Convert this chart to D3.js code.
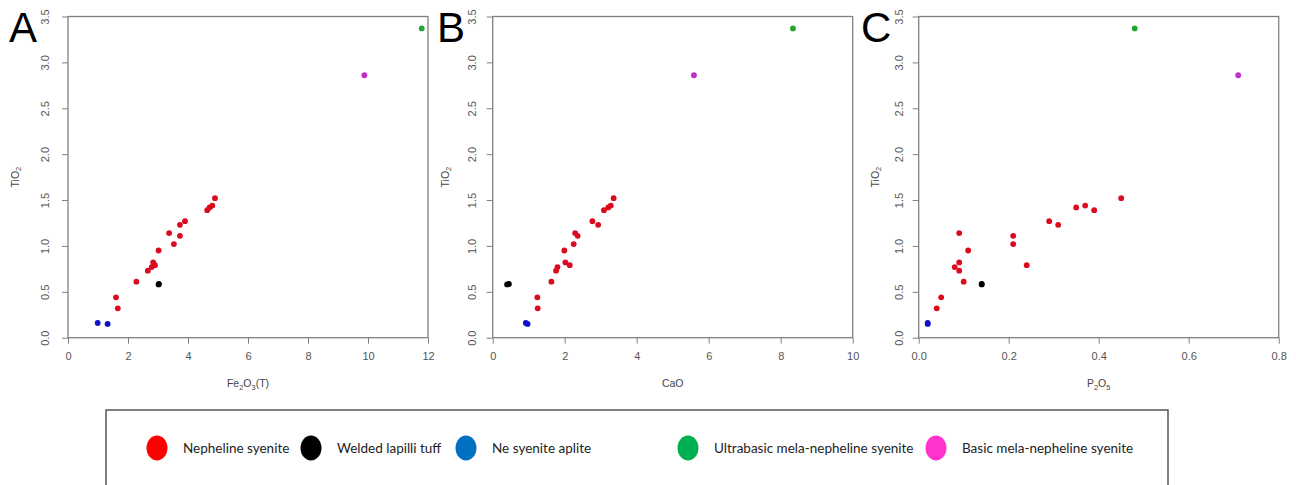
<!DOCTYPE html>
<html>
<head>
<meta charset="utf-8">
<script src="https://cdn.jsdelivr.net/npm/d3@7"></script>
<style>
  body { margin: 0; background: #fff; }
  svg { display: block; }
</style>
</head>
<body>
<svg id="chart" width="1296" height="485"></svg>
<script>
// Rock groups, in legend order
const groups = [
  "Nepheline syenite",
  "Welded lapilli tuff",
  "Ne syenite aplite",
  "Ultrabasic mela-nepheline syenite",
  "Basic mela-nepheline syenite"
];
const pointColors = ["#dc0a1e", "#000000", "#1010c8", "#22a832", "#c030c8"];
const legendColors = ["#ff0000", "#000000", "#0070c0", "#00b050", "#ff33cc"];

// One entry per sample (wt%)
const sampleGroup = [0,0,0,0,0,0,0,0,0,0,0,0,0,0,0,0,0, 1,1, 2,2, 3, 4];
const tio2  = [1.52,1.44,1.42,1.39,1.27,1.23,1.14,1.11,1.02,0.95,0.82,0.79,0.77,0.73,0.61,0.44,0.32, 0.58,0.585, 0.16,0.15, 3.37, 2.86];
const fe2o3 = [4.90,4.81,4.72,4.64,3.90,3.73,3.37,3.73,3.53,3.02,2.84,2.90,2.79,2.66,2.28,1.60,1.66, 3.02,3.03, 0.99,1.32, 11.79, 9.88];
const cao   = [3.36,3.28,3.21,3.09,2.77,2.93,2.29,2.36,2.25,1.99,2.02,2.14,1.80,1.76,1.63,1.24,1.25, 0.40,0.45, 0.92,0.97, 8.34, 5.59];
const p2o5  = [0.45,0.37,0.35,0.39,0.29,0.31,0.09,0.21,0.21,0.11,0.09,0.24,0.08,0.09,0.10,0.05,0.04, 0.14,0.14, 0.02,0.02, 0.48, 0.71];

// Axis ticks
const yTicks  = [0, 0.5, 1.0, 1.5, 2.0, 2.5, 3.0, 3.5];
const xTicksA = [0, 2, 4, 6, 8, 10, 12];
const xTicksB = [0, 2, 4, 6, 8, 10];
const xTicksC = [0, 0.2, 0.4, 0.6, 0.8];

const svg = d3.select("#chart");
const tickColor = "#555";
const frameColor = "#808080";
const plotTop = 16.5, plotBottom = 337.7, plotW = 360;

const panels = [
  { letter: "A", left: 68,    values: fe2o3, domain: [0, 12],  ticks: xTicksA, fmt: d3.format("d"),
    xLabel: [["Fe", ""], ["2", "sub"], ["O", ""], ["3", "sub"], ["(T)", ""]],
    tickOff: 23, titleOff: 53, letterX: 9 },
  { letter: "B", left: 492.7, values: cao,   domain: [0, 10],  ticks: xTicksB, fmt: d3.format("d"),
    xLabel: [["CaO", ""]],
    tickOff: 21, titleOff: 47.5, letterX: 437 },
  { letter: "C", left: 918.7, values: p2o5,  domain: [0, 0.8], ticks: xTicksC, fmt: d3.format(".1f"),
    xLabel: [["P", ""], ["2", "sub"], ["O", ""], ["5", "sub"]],
    tickOff: 20, titleOff: 44, letterX: 861 }
];

const y = d3.scaleLinear().domain([0, 3.5]).range([plotBottom, plotTop]);

panels.forEach(p => {
  const x = d3.scaleLinear().domain(p.domain).range([p.left, p.left + plotW]);
  const g = svg.append("g");

  // x axis
  const xa = g.append("g")
    .attr("transform", `translate(0,${plotBottom})`)
    .call(d3.axisBottom(x).tickValues(p.ticks).tickFormat(p.fmt).tickSize(6).tickSizeOuter(0));
  xa.select(".domain").remove();
  xa.selectAll("line").attr("stroke", frameColor);
  xa.selectAll("text")
    .attr("fill", tickColor).attr("font-family", "Liberation Sans, Arial, sans-serif")
    .attr("font-size", 11).attr("y", 15);

  // y axis with labels parallel to the axis
  const ya = g.append("g")
    .attr("transform", `translate(${p.left},0)`)
    .call(d3.axisLeft(y).tickValues(yTicks).tickFormat(d3.format(".1f")).tickSize(6).tickSizeOuter(0));
  ya.select(".domain").remove();
  ya.selectAll("line").attr("stroke", frameColor);
  ya.selectAll("text")
    .attr("fill", tickColor).attr("font-family", "Liberation Sans, Arial, sans-serif")
    .attr("font-size", 11)
    .attr("x", null).attr("dy", null)
    .attr("text-anchor", "middle")
    .attr("dominant-baseline", "central")
    .attr("transform", `translate(${-p.tickOff},0) rotate(-90)`);

  // frame
  g.append("rect")
    .attr("x", p.left).attr("y", plotTop)
    .attr("width", plotW).attr("height", plotBottom - plotTop)
    .attr("fill", "none").attr("stroke", frameColor).attr("stroke-width", 1.3);

  // y title
  const yt = g.append("text")
    .attr("transform", `translate(${p.left - p.titleOff},${(plotTop + plotBottom) / 2}) rotate(-90)`)
    .attr("text-anchor", "middle").attr("dominant-baseline", "central")
    .attr("font-family", "Liberation Sans, Arial, sans-serif").attr("font-size", 10.5).attr("fill", "#444");
  yt.append("tspan").text("TiO");
  yt.append("tspan").text("2").attr("font-size", 7.5).attr("dy", 3);

  // x title
  const xt = g.append("text")
    .attr("x", p.left + plotW / 2).attr("y", 387)
    .attr("text-anchor", "middle")
    .attr("font-family", "Liberation Sans, Arial, sans-serif").attr("font-size", 10.5).attr("fill", "#444");
  let shifted = 0;
  p.xLabel.forEach(([t, kind]) => {
    const ts = xt.append("tspan").text(t);
    if (kind === "sub") { ts.attr("font-size", 7.5).attr("dy", 3 - shifted); shifted = 3; }
    else if (shifted) { ts.attr("dy", -shifted); shifted = 0; }
  });

  // panel letter
  g.append("text")
    .attr("x", p.letterX).attr("y", 42)
    .attr("font-family", "Liberation Sans, Arial, sans-serif").attr("font-size", 42)
    .attr("fill", "#000").text(p.letter);

  // samples
  g.append("g").selectAll("circle")
    .data(d3.range(tio2.length))
    .join("circle")
    .attr("cx", i => x(p.values[i]))
    .attr("cy", i => y(tio2[i]))
    .attr("r", 2.9)
    .attr("fill", i => pointColors[sampleGroup[i]]);
});

// legend
const legend = svg.append("g");
legend.append("rect")
  .attr("x", 106).attr("y", 410).attr("width", 1062).attr("height", 90)
  .attr("fill", "#fff").attr("stroke", "#555").attr("stroke-width", 1.5);

const legendMarkX = [157, 311, 466, 688, 936];
const legendY = 448;
groups.forEach((name, i) => {
  legend.append("ellipse")
    .attr("cx", legendMarkX[i]).attr("cy", legendY)
    .attr("rx", 10.5).attr("ry", 12.5)
    .attr("fill", legendColors[i]);
  legend.append("text")
    .attr("x", legendMarkX[i] + 26).attr("y", legendY)
    .attr("dominant-baseline", "central")
    .attr("font-family", "Lato, 'Open Sans', sans-serif").attr("font-size", 13.5)
    .attr("fill", "#222").text(name);
});
</script>
</body>
</html>
